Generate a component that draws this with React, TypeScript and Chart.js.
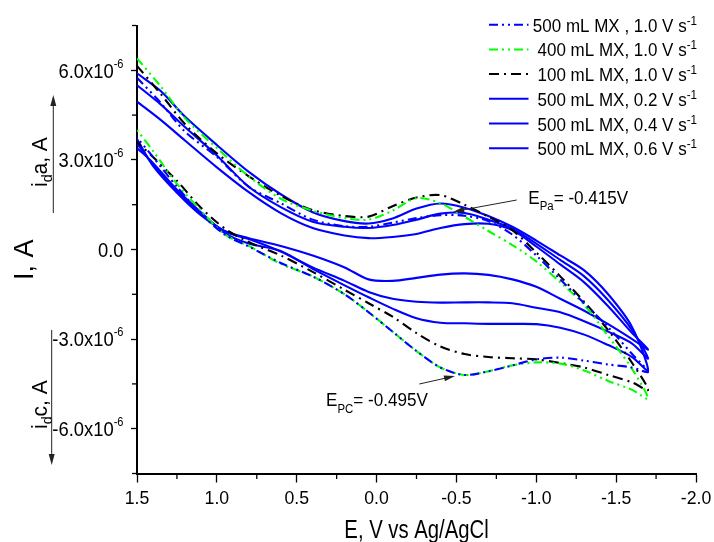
import React, { useEffect, useRef } from 'react';
import { Chart, registerables } from 'chart.js';

Chart.register(...registerables);

const FONT = '"Liberation Sans", Arial, Helvetica, sans-serif';

// Potential grids (V vs Ag/AgCl): forward (upper) branch and return (lower) branch
const E_UP = [1.5, 1.35, 1.2, 1.0, 0.8, 0.6, 0.4, 0.2, 0.05, -0.1, -0.25, -0.4, -0.55, -0.7, -0.85, -1.0, -1.15, -1.3, -1.45, -1.6, -1.7];
const E_DN = [-1.6, -1.45, -1.3, -1.15, -1.0, -0.85, -0.7, -0.55, -0.4, -0.25, -0.1, 0.05, 0.2, 0.4, 0.6, 0.8, 0.95, 1.1, 1.25, 1.4, 1.5];

// Currents in units of 1e-6 A
const UP_500_10 = [5.75, 4.9, 3.95, 3.1, 2.1, 1.55, 1.0, 0.78, 0.76, 0.9, 1.05, 1.15, 1.13, 0.95, 0.5, -0.2, -1.0, -1.8, -2.6, -3.5, -4.1];
const DN_500_10 = [-3.95, -3.85, -3.72, -3.62, -3.68, -3.88, -4.08, -4.2, -3.95, -3.4, -2.75, -2.1, -1.5, -0.9, -0.45, 0.1, 0.5, 1.2, 2.1, 3.1, 3.75];

const UP_400_10 = [6.4, 5.45, 4.4, 3.4, 2.45, 1.7, 1.3, 1.05, 1.0, 1.3, 1.72, 1.55, 1.1, 0.62, 0.15, -0.4, -1.1, -1.85, -2.9, -4.0, -5.0];
const DN_400_10 = [-4.7, -4.4, -4.05, -3.82, -3.78, -3.88, -4.08, -4.2, -3.95, -3.4, -2.75, -2.1, -1.5, -0.9, -0.48, 0.12, 0.5, 1.3, 2.2, 3.3, 4.0];

const UP_100_10 = [6.15, 5.2, 4.2, 3.22, 2.45, 1.8, 1.32, 1.12, 1.1, 1.45, 1.74, 1.82, 1.5, 1.1, 0.65, -0.1, -0.9, -1.75, -2.7, -3.8, -4.7];
const DN_100_10 = [-4.45, -4.2, -3.95, -3.8, -3.68, -3.64, -3.6, -3.5, -3.25, -2.8, -2.25, -1.8, -1.35, -0.75, -0.2, 0.25, 0.7, 1.4, 2.3, 3.1, 3.6];

const UP_500_02 = [4.95, 4.33, 3.65, 2.75, 1.92, 1.22, 0.72, 0.47, 0.38, 0.42, 0.52, 0.72, 0.85, 0.86, 0.65, 0.1, -0.5, -1.1, -1.9, -2.8, -3.35];
const DN_500_02 = [-3.0, -2.5, -2.05, -1.65, -1.25, -1.0, -0.85, -0.8, -0.84, -0.95, -1.05, -1.0, -0.6, -0.2, 0.12, 0.38, 0.62, 1.15, 1.9, 2.8, 3.7];

const UP_500_04 = [5.5, 4.85, 4.1, 3.15, 2.1, 1.42, 0.93, 0.76, 0.72, 0.82, 1.0, 1.2, 1.22, 1.0, 0.7, 0.2, -0.35, -0.9, -1.7, -2.7, -3.65];
const DN_500_04 = [-3.15, -2.75, -2.4, -2.1, -1.95, -1.8, -1.77, -1.77, -1.78, -1.75, -1.65, -1.42, -1.05, -0.6, -0.07, 0.35, 0.6, 1.2, 1.95, 2.85, 3.55];

const UP_500_06 = [5.9, 5.3, 4.45, 3.5, 2.6, 1.85, 1.25, 0.95, 0.87, 1.04, 1.37, 1.54, 1.4, 1.12, 0.76, 0.3, -0.2, -0.7, -1.5, -2.6, -4.05];
const DN_500_06 = [-3.6, -3.2, -2.85, -2.62, -2.5, -2.49, -2.49, -2.47, -2.45, -2.3, -1.98, -1.6, -1.2, -0.65, -0.05, 0.2, 0.55, 1.25, 2.0, 2.9, 3.4];

const SERIES_LABELS = [
  '500 mL MX , 1.0 V s',
  '400 mL MX, 1.0 V s',
  '100 mL MX, 1.0 V s',
  '500 mL MX, 0.2 V s',
  '500 mL MX, 0.4 V s',
  '500 mL MX, 0.6 V s',
];
const UNIT_SUP = '-1';

const X_TICKS = [1.5, 1.0, 0.5, 0.0, -0.5, -1.0, -1.5, -2.0];
const X_TICK_LABELS = ['1.5', '1.0', '0.5', '0.0', '-0.5', '-1.0', '-1.5', '-2.0'];
const X_MINOR = [1.25, 0.75, 0.25, -0.25, -0.75, -1.25, -1.75];
const Y_TICKS = [6, 3, 0, -3, -6];
const Y_TICK_MAIN = ['6.0x10', '3.0x10', '0.0', '-3.0x10', '-6.0x10'];
const Y_TICK_SUP = ['-6', '-6', '', '-6', '-6'];
const Y_MINOR = [7.5, 4.5, 1.5, -1.5, -4.5, -7.5];

const BLUE = '#0000ff';
const GREEN = '#00ff00';
const BLACK = '#000000';
const DASH_DOT_DOT = [9, 4, 2, 4, 2, 4];
const DASH_DOT = [10, 5, 2, 5];

type Part = { t: string; s: number; dy?: number };

function drawParts(
  ctx: CanvasRenderingContext2D,
  parts: Part[],
  x: number,
  y: number,
  align: 'left' | 'right' | 'center',
  sx = 1,
  rot = 0
) {
  ctx.save();
  ctx.translate(x, y);
  if (rot) ctx.rotate(rot);
  ctx.scale(sx, 1);
  let w = 0;
  const ws = parts.map((p) => {
    ctx.font = `${p.s}px ${FONT}`;
    const m = ctx.measureText(p.t).width;
    w += m;
    return m;
  });
  let cx = align === 'right' ? -w : align === 'center' ? -w / 2 : 0;
  ctx.fillStyle = '#000';
  ctx.textBaseline = 'alphabetic';
  ctx.textAlign = 'left';
  parts.forEach((p, i) => {
    ctx.font = `${p.s}px ${FONT}`;
    ctx.fillText(p.t, cx, p.dy || 0);
    cx += ws[i];
  });
  ctx.restore();
}

function drawArrow(ctx: CanvasRenderingContext2D, x1: number, y1: number, x2: number, y2: number, color = '#222') {
  const ang = Math.atan2(y2 - y1, x2 - x1);
  const hl = 11;
  const hw = 3;
  ctx.save();
  ctx.strokeStyle = color;
  ctx.fillStyle = color;
  ctx.lineWidth = 1;
  ctx.setLineDash([]);
  ctx.beginPath();
  ctx.moveTo(x1, y1);
  ctx.lineTo(x2 - Math.cos(ang) * hl * 0.8, y2 - Math.sin(ang) * hl * 0.8);
  ctx.stroke();
  ctx.beginPath();
  ctx.moveTo(x2, y2);
  ctx.lineTo(x2 - Math.cos(ang) * hl - Math.sin(ang) * hw, y2 - Math.sin(ang) * hl + Math.cos(ang) * hw);
  ctx.lineTo(x2 - Math.cos(ang) * hl + Math.sin(ang) * hw, y2 - Math.sin(ang) * hl - Math.cos(ang) * hw);
  ctx.closePath();
  ctx.fill();
  ctx.restore();
}

function loop(up: number[], dn: number[]) {
  return [
    ...E_UP.map((e, i) => ({ x: e, y: up[i] * 1e-6 })),
    ...E_DN.map((e, i) => ({ x: e, y: dn[i] * 1e-6 })),
  ];
}

const decorPlugin = {
  id: 'decor',
  afterDraw(chart: any) {
    const ctx: CanvasRenderingContext2D = chart.ctx;
    const xs = chart.scales.x;
    const ys = chart.scales.y;
    const { left, bottom } = chart.chartArea;
    ctx.save();
    ctx.setLineDash([]);
    ctx.strokeStyle = '#000';
    ctx.lineWidth = 1.3;
    X_MINOR.forEach((v) => {
      const px = xs.getPixelForValue(v);
      ctx.beginPath();
      ctx.moveTo(px, bottom + 1);
      ctx.lineTo(px, bottom + 5.5);
      ctx.stroke();
    });
    Y_MINOR.forEach((v) => {
      const py = ys.getPixelForValue(v * 1e-6);
      ctx.beginPath();
      ctx.moveTo(left - 1, py);
      ctx.lineTo(left - 5, py);
      ctx.stroke();
    });
    ctx.restore();

    // x tick labels
    X_TICKS.forEach((v, i) => {
      const px = xs.getPixelForValue(v);
      drawParts(ctx, [{ t: X_TICK_LABELS[i], s: 19 }], px, bottom + 30.5, 'center', 0.93);
    });
    // y tick labels
    Y_TICKS.forEach((v, i) => {
      const py = ys.getPixelForValue(v * 1e-6);
      const parts: Part[] = [{ t: Y_TICK_MAIN[i], s: 20 }];
      if (Y_TICK_SUP[i]) parts.push({ t: Y_TICK_SUP[i], s: 12, dy: -10 });
      drawParts(ctx, parts, 123.5, py + 7.2, 'right', 0.92);
    });

    // axis titles
    drawParts(ctx, [{ t: 'E, V vs Ag/AgCl', s: 26 }], (chart.chartArea.left + chart.chartArea.right) / 2, 537.5, 'center', 0.78);
    drawParts(ctx, [{ t: 'I, A', s: 27 }], 33, 280, 'left', 1, -Math.PI / 2);

    // anodic / cathodic labels with arrows
    drawParts(ctx, [{ t: 'i', s: 22 }, { t: 'd', s: 15, dy: 5 }, { t: 'a, A', s: 22 }], 47, 187, 'left', 0.95, -Math.PI / 2);
    drawArrow(ctx, 53.3, 213, 53.3, 95);
    drawParts(ctx, [{ t: 'i', s: 22 }, { t: 'd', s: 15, dy: 5 }, { t: 'c, A', s: 22 }], 47, 429, 'left', 0.95, -Math.PI / 2);
    drawArrow(ctx, 51.7, 330, 51.7, 465);

    // peak annotations
    drawParts(ctx, [{ t: 'E', s: 18 }, { t: 'Pa', s: 12, dy: 6 }, { t: '= -0.415V', s: 18 }], 528.3, 204, 'left', 0.95);
    drawArrow(ctx, 516.7, 200, 453.3, 211.7);
    drawParts(ctx, [{ t: 'E', s: 18 }, { t: 'PC', s: 12, dy: 6.5 }, { t: '= -0.495V', s: 18 }], 326, 406, 'left', 0.95);
    drawArrow(ctx, 419.3, 384, 455, 376);

    // legend
    chart.data.datasets.forEach((ds: any, i: number) => {
      const base = 31.7 + i * 24.7;
      const ly = base - 7;
      ctx.save();
      ctx.strokeStyle = ds.borderColor;
      ctx.lineWidth = 2;
      ctx.setLineDash(ds.borderDash || []);
      ctx.beginPath();
      ctx.moveTo(489, ly);
      ctx.lineTo(528.5, ly);
      ctx.stroke();
      ctx.restore();
      drawParts(ctx, [{ t: SERIES_LABELS[i], s: 17.5 }, { t: UNIT_SUP, s: 12, dy: -7 }], 697, base, 'right', 0.97);
    });
  },
};

export default function App() {
  const ref = useRef<HTMLCanvasElement | null>(null);
  useEffect(() => {
    if (!ref.current) return;
    const mk = (up: number[], dn: number[], color: string, dash: number[]) => ({
      data: loop(up, dn),
      showLine: true,
      borderColor: color,
      backgroundColor: color,
      borderWidth: 2.1,
      borderDash: dash,
      pointRadius: 0,
      tension: 0.3,
      fill: false,
    });
    const chart = new Chart(ref.current, {
      type: 'scatter',
      data: {
        datasets: [
          mk(UP_500_10, DN_500_10, BLUE, DASH_DOT_DOT),
          mk(UP_400_10, DN_400_10, GREEN, DASH_DOT_DOT),
          mk(UP_100_10, DN_100_10, BLACK, DASH_DOT),
          mk(UP_500_02, DN_500_02, BLUE, []),
          mk(UP_500_04, DN_500_04, BLUE, []),
          mk(UP_500_06, DN_500_06, BLUE, []),
        ] as any,
      },
      options: {
        animation: false,
        responsive: false,
        devicePixelRatio: 1,
        layout: { padding: { left: 0, right: 18, top: 25.5, bottom: 0 } },
        plugins: { legend: { display: false }, tooltip: { enabled: false }, title: { display: false } },
        scales: {
          x: {
            type: 'linear',
            reverse: true,
            min: -2.0,
            max: 1.5,
            afterBuildTicks: (s: any) => {
              s.ticks = X_TICKS.map((v) => ({ value: v }));
            },
            afterFit: (s: any) => {
              s.height = 68.5;
            },
            grid: { display: true, drawOnChartArea: false, drawTicks: true, tickLength: 9, tickWidth: 1.3, tickColor: '#000' },
            border: { display: true, color: '#000', width: 2 },
            ticks: { display: false },
          },
          y: {
            type: 'linear',
            min: -7.5e-6,
            max: 7.5e-6,
            afterBuildTicks: (s: any) => {
              s.ticks = Y_TICKS.map((v) => ({ value: v * 1e-6 }));
            },
            afterFit: (s: any) => {
              s.width = 137;
            },
            grid: { display: true, drawOnChartArea: false, drawTicks: true, tickLength: 6, tickWidth: 1.3, tickColor: '#000' },
            border: { display: true, color: '#000', width: 2 },
            ticks: { display: false },
          },
        },
      },
      plugins: [decorPlugin],
    } as any);
    return () => chart.destroy();
  }, []);
  return (
    <div style={{ position: 'absolute', left: 0, top: 0, width: 714, height: 542, background: '#fff' }}>
      <canvas ref={ref} width={714} height={542} style={{ display: 'block', width: 714, height: 542 }} />
    </div>
  );
}
